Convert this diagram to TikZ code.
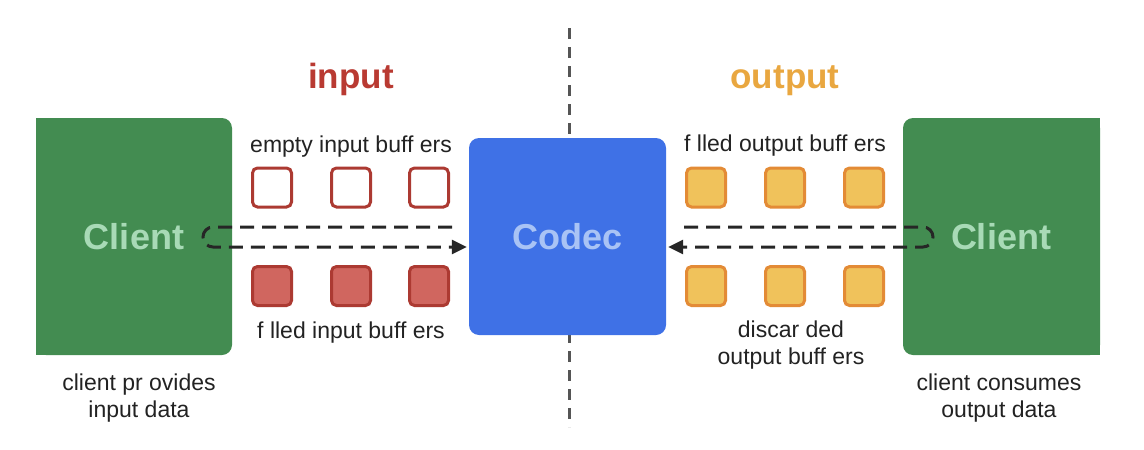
\documentclass[tikz,border=0pt]{standalone}
\usepackage{fontspec}
\setmainfont{Liberation Sans}
\usetikzlibrary{arrows.meta}
\definecolor{cgreen}{HTML}{438C51}
\definecolor{cgreentxt}{HTML}{A8DAB6}
\definecolor{cblue}{HTML}{3F71E6}
\definecolor{cbluetxt}{HTML}{A9C3F5}
\definecolor{credb}{HTML}{AC3A32}
\definecolor{credf}{HTML}{D0665F}
\definecolor{corb}{HTML}{E38B36}
\definecolor{corf}{HTML}{F0C25B}
\definecolor{ctitlein}{HTML}{B93A32}
\definecolor{ctitleout}{HTML}{E9A740}
\definecolor{ctext}{HTML}{222222}
\definecolor{cdash}{HTML}{262626}
\definecolor{cdiv}{HTML}{555555}
\tikzset{
  bigbox/.style={fill=#1, rounded corners=10pt, inner sep=0pt},
  bold36/.style={font=\fontsize{36}{40}\selectfont\bfseries},
  lbl/.style={font=\fontsize{23}{27}\selectfont, text=ctext, align=center, inner sep=0pt},
  bufin/.style={draw=credb, line width=3pt, rounded corners=5pt, minimum size=39pt, inner sep=0pt, fill=white},
  buffull/.style={bufin, fill=credf},
  bufout/.style={draw=corb, line width=3pt, rounded corners=5pt, minimum size=39pt, inner sep=0pt, fill=corf},
  flow/.style={draw=cdash, line width=3pt, dash pattern=on 14pt off 8pt, rounded corners=10pt, -{Triangle[length=15pt,width=14pt]}},
  divider/.style={draw=cdiv, line width=3pt, dash pattern=on 11pt off 8pt},
}
\begin{document}
\begin{tikzpicture}[x=1pt,y=-1pt]
\useasboundingbox (0,0) rectangle (1144,450);
% divider (behind codec)
\coordinate (dtop) at (569,28);
\coordinate (dbot) at (569,427);
\draw[divider] (dtop) -- (dbot);
% clients
\fill[cgreen] (36,118) rectangle (60,355);
\node[bigbox=cgreen, minimum width=196pt, minimum height=237pt] (clientL) at (134,236.5) {};
\fill[cgreen] (1076,118) rectangle (1100,355);
\node[bigbox=cgreen, minimum width=197pt, minimum height=237pt] (clientR) at (1001.5,236.5) {};
\node[bold36, text=cgreentxt] (clientLt) at (134,237) {Client};
\node[bold36, text=cgreentxt] (clientRt) at (1001,237) {Client};
% codec
\node[bigbox=cblue, minimum width=197pt, minimum height=197pt] (codec) at (567.5,236.5) {};
\node[bold36, text=cbluetxt] (codect) at (568,237) {Codec};
% titles
\node[font=\fontsize{35}{40}\selectfont\bfseries, text=ctitlein, anchor=base] (tin) at (351,88) {input};
\node[font=\fontsize{35}{40}\selectfont\bfseries, text=ctitleout, anchor=base] (tout) at (785,88) {output};
% input buffers
\node[bufin] (ie1) at (272,187.5) {};
\node[bufin] (ie2) at (351,187.5) {};
\node[bufin] (ie3) at (429,187.5) {};
\node[buffull] (if1) at (272,286) {};
\node[buffull] (if2) at (351,286) {};
\node[buffull] (if3) at (429,286) {};
% output buffers
\node[bufout] (of1) at (706,187.5) {};
\node[bufout] (of2) at (785,187.5) {};
\node[bufout] (of3) at (864,187.5) {};
\node[bufout] (od1) at (706,286) {};
\node[bufout] (od2) at (785,286) {};
\node[bufout] (od3) at (864,286) {};
% labels (base = baseline of last line)
\node[lbl, anchor=base] (l1) at (351,152) {empty input buff ers};
\node[lbl, anchor=base] (l2) at (351,338) {f lled input buff ers};
\node[lbl, anchor=base] (l3) at (785,151) {f lled output buff ers};
\node[lbl, anchor=base] (l4) at (791,364) {discar ded\\output buff ers};
\node[lbl, anchor=base] (l5) at (139,417) {client pr ovides\\input data};
\node[lbl, anchor=base] (l6) at (999,417) {client consumes\\output data};
% flows
\coordinate (inStart) at (452,227);
\coordinate (inTurnA) at (203,227);
\coordinate (inTurnB) at (203,247);
\draw[flow, shorten >=2pt] (inStart) -- (inTurnA) -- (inTurnB) -- (codec.west |- inTurnB);
\coordinate (outStart) at (684,227);
\coordinate (outTurnA) at (933,227);
\coordinate (outTurnB) at (933,247);
\draw[flow, shorten >=2pt] (outStart) -- (outTurnA) -- (outTurnB) -- (codec.east |- outTurnB);
\end{tikzpicture}
\end{document}
